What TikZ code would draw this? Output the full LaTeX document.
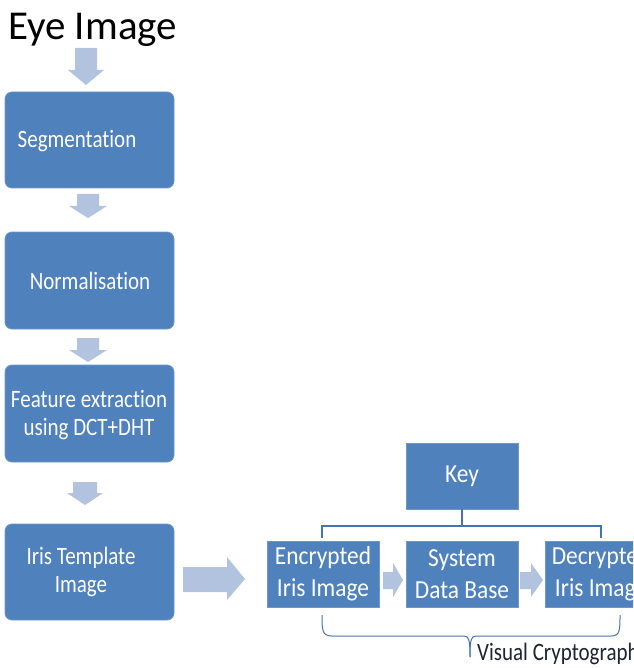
\documentclass[tikz,border=0pt]{standalone}
\usepackage{fontspec}
\setmainfont{Carlito}
\newfontfamily\boxfont[FakeStretch=0.84,Ligatures={NoCommon}]{Carlito}
\newfontfamily\rboxfont[FakeStretch=0.9,Ligatures={NoCommon}]{Carlito}
\newfontfamily\titlefont{Carlito}
\definecolor{boxblue}{HTML}{4F81BD}
\definecolor{boxedge}{HTML}{6F96C8}
\definecolor{arrowblue}{HTML}{B2C3DF}
\definecolor{lineblue}{HTML}{4674AE}
\definecolor{capcol}{HTML}{1E2430}
\begin{document}
\begin{tikzpicture}[x=1pt,y=-1pt,
  lbox/.style={draw=boxedge,line width=0.8pt,fill=boxblue,rounded corners=7pt},
  rbox/.style={draw=boxedge,line width=0.8pt,fill=boxblue},
  btext/.style={text=white,font=\boxfont\fontsize{25}{28}\selectfont,align=center,inner sep=0pt},
  rtext/.style={text=white,font=\rboxfont\fontsize{26}{32}\selectfont,align=center,inner sep=0pt},
  blk/.style={fill=arrowblue,draw=none},
  conn/.style={draw=lineblue,line width=1.3pt}]
\useasboundingbox (0,0) rectangle (633,668);
\clip (0,0) rectangle (633,668);
\fill[white] (0,0) rectangle (633,668);
% title
\node[anchor=base west,inner sep=0pt,font=\titlefont\fontsize{41}{48}\selectfont] (title) at (8,40) {Eye Image};
% left boxes
\draw[lbox] (5,92) rectangle (174,188);
\node[btext] (seg) at (77,141) {Segmentation};
\draw[lbox] (5,232) rectangle (174,329);
\node[btext] (norm) at (90,281) {Normalisation};
\draw[lbox] (5,365) rectangle (174,462);
\node[btext] (feat) at (89,415) {Feature extraction\\using DCT+DHT};
\draw[lbox] (5,524) rectangle (174,620);
\node[btext] (iris) at (81,572) {Iris Template\\Image};
% down arrows
\fill[blk] (75,48) -- (97,48) -- (97,70) -- (104,70) -- (86,85) -- (68,70) -- (75,70) -- cycle;
\fill[blk] (77,194) -- (99,194) -- (99,206) -- (107,206) -- (88,218) -- (69,206) -- (77,206) -- cycle;
\fill[blk] (77,338) -- (99,338) -- (99,350) -- (107,350) -- (88,362) -- (69,350) -- (77,350) -- cycle;
\fill[blk] (73,482) -- (97,482) -- (97,493) -- (103,493) -- (85,505) -- (67,493) -- (73,493) -- cycle;
% big right arrow
\fill[blk] (183,567) -- (227,567) -- (227,557) -- (245,579) -- (227,600) -- (227,592) -- (183,592) -- cycle;
% right boxes
\draw[rbox] (406,443) rectangle (518,509);
\node[rtext] (key) at (462,476) {Key};
\draw[rbox] (267,541) rectangle (379,607);
\node[rtext] (enc) at (323,574) {Encrypted\\Iris Image};
\draw[rbox] (406,541) rectangle (518,607);
\node[rtext] (sys) at (462,574) {System\\Data Base};
\draw[rbox] (545,541) rectangle (657,607);
\node[rtext] (dec) at (601,574) {Decrypted\\Iris Image};
% small arrows
\fill[blk] (383,572) -- (393,572) -- (393,563) -- (403,580) -- (393,597) -- (393,589) -- (383,589) -- cycle;
\fill[blk] (520,572) -- (531,572) -- (531,563) -- (543,580) -- (531,597) -- (531,589) -- (520,589) -- cycle;
% key connectors
\coordinate (jn) at (462,526);
\draw[conn] (key.south |- 462,509) -- (jn);
\draw[conn] (322,538) -- (322,526) -- (601,526) -- (601,538);
% brace
\draw[draw=lineblue,line width=1pt] (322,615) .. controls (322,630) and (322,636) .. (332,636) -- (464,636) .. controls (469,636) and (470,640) .. (470,657);
\draw[draw=lineblue,line width=1pt] (470,657) .. controls (470,640) and (471,636) .. (476,636) -- (611,636) .. controls (620,636) and (620,630) .. (620,615);
\node[anchor=west,inner sep=0pt,text=capcol,font=\boxfont\fontsize{25}{30}\selectfont] (vc) at (477,654) {Visual Cryptography};
\end{tikzpicture}
\end{document}
